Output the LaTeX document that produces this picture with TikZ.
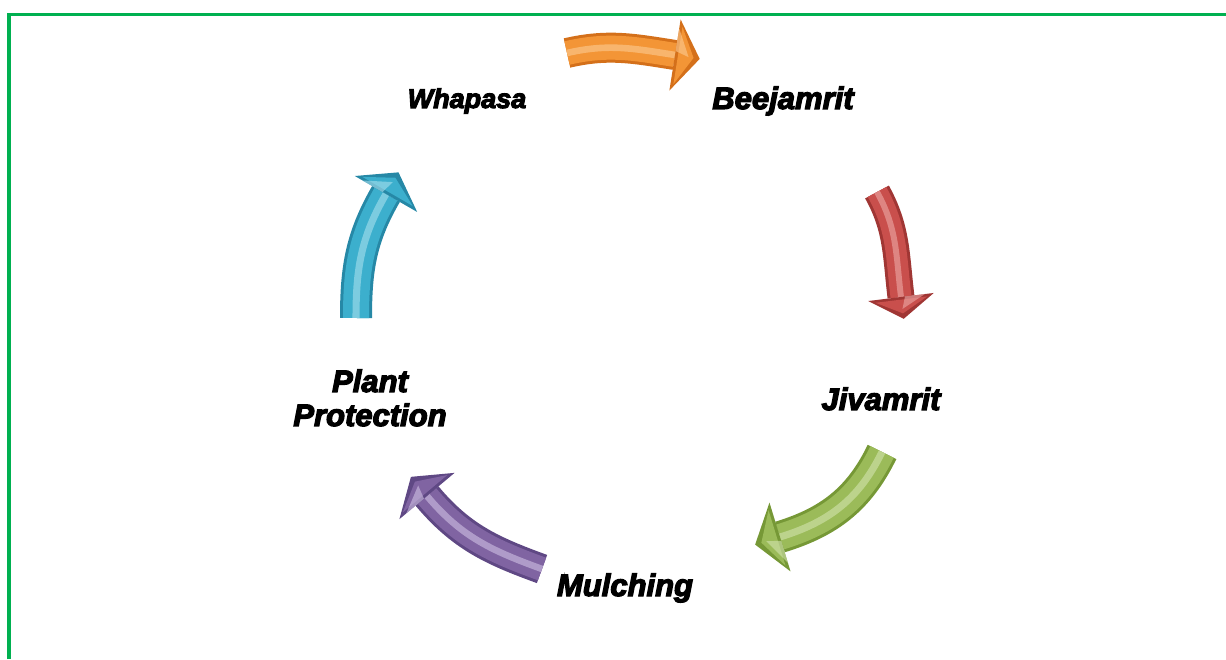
\documentclass[tikz,border=0pt]{standalone}
\usepackage{fontspec}
\setmainfont{Liberation Sans}
\newfontfamily\lblfont[FakeBold=4]{Liberation Sans Bold Italic}
\usetikzlibrary{calc}
\definecolor{bordergreen}{HTML}{00B050}
\definecolor{obase}{HTML}{F39536}\definecolor{odark}{HTML}{D4701A}\definecolor{olight}{HTML}{FCCB92}
\definecolor{rbase}{HTML}{C94F4C}\definecolor{rdark}{HTML}{A03634}\definecolor{rlight}{HTML}{EDA9A7}
\definecolor{gbase}{HTML}{9BBB59}\definecolor{gdark}{HTML}{769836}\definecolor{glight}{HTML}{D3E4AE}
\definecolor{pbase}{HTML}{8064A2}\definecolor{pdark}{HTML}{5F4884}\definecolor{plight}{HTML}{CFC0E4}
\definecolor{cbase}{HTML}{3CAFCD}\definecolor{cdark}{HTML}{2688A6}\definecolor{clight}{HTML}{A8E0EE}
\tikzset{
  lbl/.style={font=\lblfont\fontsize{31}{34}\selectfont, text=black, align=center, anchor=base, inner sep=0pt},
  lblsmall/.style={lbl, font=\lblfont\fontsize{27}{30}\selectfont},
}
\newcommand{\cycarrow}[9]{%
  % #1 prefix, #2 S, #3 E, #4 out, #5 in, #6 width, #7 tip dir, #8 half head, #9 head length
  \coordinate (#1S) at #2;
  \coordinate (#1E) at #3;
  \coordinate (#1A) at ($(#1E)+(#7+90:#8)$);
  \coordinate (#1B) at ($(#1E)+(#7-90:#8)$);
  \coordinate (#1T) at ($(#1E)+(#7:#9)$);
  \draw[line width=#6pt, draw=#1dark] (#1S) to[out=#4,in=#5] (#1E);
  \draw[line width=#6pt-6pt, draw=#1base] (#1S) to[out=#4,in=#5] (#1E);
  \draw[line width=#6pt*0.22, draw=#1light, opacity=0.6] (#1S) to[out=#4,in=#5] (#1E);
  \fill[#1dark] (#1A) -- (#1T) -- (#1B) -- cycle;
  \fill[#1base] ($(#1E)!0.12!(#1T)+(#7+90:#8-7)$) -- ($(#1E)!0.75!(#1T)$) -- ($(#1E)!0.12!(#1T)+(#7-90:#8-7)$) -- cycle;
  \fill[#1light, opacity=0.6] ($(#1E)+(#7+90:#8-9)$) -- ($(#1E)!0.55!(#1T)$) -- ($(#1E)+(#7+90:4)$) -- cycle;
}
\begin{document}
\begin{tikzpicture}[x=1pt,y=1pt]
\useasboundingbox (0,0) rectangle (1226,659);
\draw[line width=3.5pt, bordergreen] (9,0) -- (9,644.5) -- (1226,644.5);

\cycarrow{o}{(567,606)}{(675,604)}{13}{171}{30}{-9}{36}{25}
\cycarrow{r}{(877,467)}{(901,362)}{-61}{97}{27}{-83}{33}{22}
\cycarrow{g}{(882,207)}{(780,122)}{-116}{17}{32}{197}{36}{26}
\cycarrow{p}{(542,90)}{(427,163)}{160}{-50}{30}{130}{36}{25}
\cycarrow{c}{(356,341)}{(386,465)}{90}{240}{32}{60}{36}{25}

\node[lblsmall] (whapasa) at (467,551) {Whapasa};
\node[lbl] (beejamrit) at (783,550) {Beejamrit};
\node[lbl] (jivamrit) at (881,249) {Jivamrit};
\node[lbl] (mulching) at (625,63) {Mulching};
\node[lbl] (plant) at (370,233) {Plant\\Protection};
\end{tikzpicture}
\end{document}
